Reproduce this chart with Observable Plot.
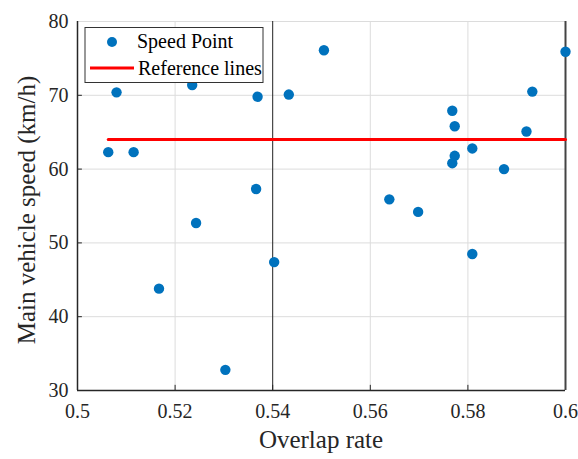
<!DOCTYPE html>
<html><head><meta charset="utf-8">
<script src="https://cdn.jsdelivr.net/npm/d3@7"></script>
<script src="https://cdn.jsdelivr.net/npm/@observablehq/plot@0.6"></script>
<style>
body{margin:0;background:#fff;}
#chart{position:relative;width:578px;height:459px;}
</style></head><body><div id="chart"></div>
<script>
const overlapRate = [0.5063,0.5080,0.5115,0.5167,0.5235,0.5243,0.5303,0.5366,0.5369,0.5403,0.5433,0.5505,0.5639,0.5698,0.5768,0.5773,0.5773,0.5768,0.5809,0.5809,0.5874,0.5920,0.5932,0.6000];
const speed = [62.3,70.4,62.3,43.8,71.4,52.7,32.8,57.3,69.8,47.4,70.1,76.1,55.9,54.2,67.9,65.8,61.8,60.8,62.8,48.5,60.0,65.1,70.5,75.9];
const refX = [0.5063,0.6];
const refY = [64,64];
const xTicks = [0.5,0.52,0.54,0.56,0.58,0.6];
const xTickLabels = ["0.5","0.52","0.54","0.56","0.58","0.6"];
const yTicks = [30,40,50,60,70,80];
const legendLabels = ["Speed Point","Reference lines"];
const xLabel = "Overlap rate";
const yLabel = "Main vehicle speed (km/h)";

const pts = overlapRate.map((x,i)=>({x, y: speed[i]}));
const ref = refX.map((x,i)=>({x, y: refY[i]}));
const font = "'Liberation Serif', 'DejaVu Serif', serif";
const ink = "#262626";

const plot = Plot.plot({
  width: 578, height: 459,
  marginLeft: 77, marginRight: 13, marginTop: 21, marginBottom: 69,
  style: {fontFamily: font, fontSize: "20px", color: ink, background: "#fff"},
  x: {domain: [0.5, 0.6]},
  y: {domain: [30, 80]},
  marks: [
    Plot.ruleX(xTicks.filter(v=>v!==0.54 && v!==0.5 && v!==0.6), {stroke: "#dcdcdc", strokeWidth: 1}),
    Plot.ruleY(yTicks.filter(v=>v!==30), {stroke: "#dcdcdc", strokeWidth: 1}),
    Plot.ruleX([0.54], {stroke: "#222", strokeWidth: 1}),
    Plot.ruleX(xTicks.filter(v=>v!==0.5 && v!==0.6), {y1: 30, y2: 30.7, stroke: ink, strokeWidth: 1}),
    Plot.ruleY(yTicks.filter(v=>v!==30 && v!==80), {x1: 0.5, x2: 0.501, stroke: ink, strokeWidth: 1}),
    Plot.ruleX([0.5], {stroke: ink, strokeWidth: 1.5}),
    Plot.ruleX([0.6], {stroke: "#444", strokeWidth: 2}),
    Plot.ruleY([30], {stroke: ink, strokeWidth: 1.5}),
    Plot.line(ref, {x: "x", y: "y", stroke: "#ff0000", strokeWidth: 3}),
    Plot.dot(pts, {x: "x", y: "y", r: 5.2, fill: "#0072BD", stroke: "none"}),
    Plot.axisX({ticks: xTicks, tickFormat: (d,i)=>xTickLabels[i], tickSize: 0, tickPadding: 13, fontSize: 20, label: null}),
    Plot.axisY({ticks: yTicks, tickSize: 0, tickPadding: 9, fontSize: 20, label: null})
  ]
});
document.getElementById("chart").appendChild(plot);

const svg = d3.select(plot);
// axis labels
svg.append("text").attr("x", 321).attr("y", 448).attr("text-anchor", "middle")
  .attr("font-family", font).attr("font-size", 25).attr("fill", ink).text(xLabel);
svg.append("text").attr("transform", "translate(35,210) rotate(-90)").attr("text-anchor", "middle")
  .attr("font-family", font).attr("font-size", 25).attr("fill", ink).text(yLabel);
// legend
const g = svg.append("g").attr("font-family", font).attr("font-size", 20).attr("fill", "#000").attr("text-anchor", "start");
g.append("rect").attr("x", 85).attr("y", 27.5).attr("width", 178).attr("height", 55)
  .attr("fill", "#fff").attr("stroke", "#333").attr("stroke-width", 1);
g.append("circle").attr("cx", 112).attr("cy", 42).attr("r", 5).attr("fill", "#0072BD");
g.append("text").attr("x", 137).attr("y", 48).text(legendLabels[0]);
g.append("line").attr("x1", 90).attr("x2", 134).attr("y1", 68).attr("y2", 68).attr("stroke", "#ff0000").attr("stroke-width", 3);
g.append("text").attr("x", 138).attr("y", 75).text(legendLabels[1]);
</script></body></html>
